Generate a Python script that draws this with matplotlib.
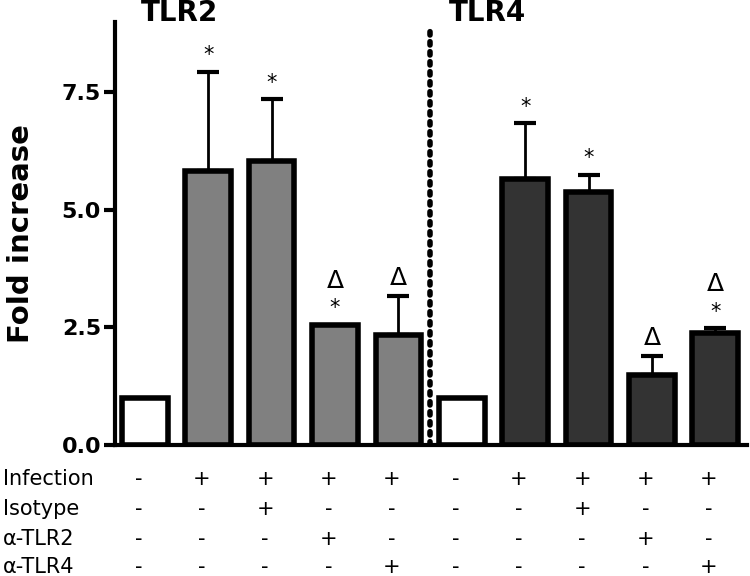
import numpy as np
import matplotlib
matplotlib.use("Agg")
import matplotlib.pyplot as plt
from matplotlib.transforms import blended_transform_factory

# Data
groups = ["TLR2", "TLR4"]
means = [1.0, 5.82, 6.03, 2.56, 2.34, 1.0, 5.65, 5.37, 1.49, 2.38]
errs = [0.0, 2.12, 1.32, 0.0, 0.82, 0.0, 1.20, 0.38, 0.40, 0.10]
stars = [False, True, True, True, False, False, True, True, False, True]
deltas = [False, False, False, True, True, False, False, False, True, True]
row_names = ["Infection", "Isotype", "α-TLR2", "α-TLR4"]
infection = ["-", "+", "+", "+", "+", "-", "+", "+", "+", "+"]
isotype = ["-", "-", "+", "-", "-", "-", "-", "+", "-", "-"]
anti_tlr2 = ["-", "-", "-", "+", "-", "-", "-", "-", "+", "-"]
anti_tlr4 = ["-", "-", "-", "-", "+", "-", "-", "-", "-", "+"]

colors = ["white", "#808080", "#808080", "#808080", "#808080",
          "white", "#333333", "#333333", "#333333", "#333333"]

x = np.arange(len(means))

fig = plt.figure(figsize=(7.5, 5.76), dpi=100)
ax = fig.add_axes([0.1533, 0.2274, 0.8427, 0.735])

ax.bar(x, means, width=0.72, color=colors, edgecolor="black", linewidth=4, zorder=2)
for xi, m, e in zip(x, means, errs):
    if e > 0:
        ax.errorbar(xi, m, yerr=[[0], [e]], fmt="none", ecolor="black",
                    elinewidth=2, capsize=8, capthick=3, zorder=1)

# significance marks
for xi, m, e, s, d in zip(x, means, errs, stars, deltas):
    top = m + e
    off = 4.5
    if s:
        ax.annotate("*", (xi, top), xytext=(0, off), textcoords="offset points",
                    ha="center", va="bottom", fontsize=15)
        off = 23
    if d:
        ax.annotate("Δ", (xi, top), xytext=(0, off), textcoords="offset points",
                    ha="center", va="bottom", fontsize=18)

# separator between the groups
ax.axvline(4.5, ymin=0, ymax=0.99, color="black", linestyle=(0, (0.6, 1.2)),
           linewidth=4, dash_capstyle="round", zorder=3)

ax.set_xlim(-0.47, 9.5)
ax.set_ylim(0, 9)
ax.set_yticks([0, 2.5, 5.0, 7.5])
ax.set_yticklabels(["0.0", "2.5", "5.0", "7.5"], fontsize=16, fontweight="bold")
ax.set_xticks([])
ax.tick_params(axis="y", length=8, width=3, direction="out", pad=2)
for side in ["top", "right"]:
    ax.spines[side].set_visible(False)
for side in ["left", "bottom"]:
    ax.spines[side].set_linewidth(3)
ax.set_ylabel("Fold increase", fontsize=21, fontweight="bold", labelpad=19)

# group titles
trans = blended_transform_factory(ax.transData, fig.transFigure)
ax.text(0.55, 1 - 13 / 576, groups[0], transform=trans,
        ha="center", va="center", fontsize=20, fontweight="bold")
ax.text(5.4, 1 - 13 / 576, groups[1], transform=trans,
        ha="center", va="center", fontsize=20, fontweight="bold")

# treatment table below the axis
rows = [infection, isotype, anti_tlr2, anti_tlr4]
row_y = [1 - 479 / 576, 1 - 509 / 576, 1 - 539 / 576, 1 - 567 / 576]
for name, vals, yy in zip(row_names, rows, row_y):
    fig.text(0.004, yy, name, ha="left", va="center", fontsize=15)
    for xi, v in zip(x, vals):
        ax.text(xi - 0.1, yy, v, transform=trans, ha="center", va="center",
                fontsize=15)

fig.savefig("out.png", dpi=100)
